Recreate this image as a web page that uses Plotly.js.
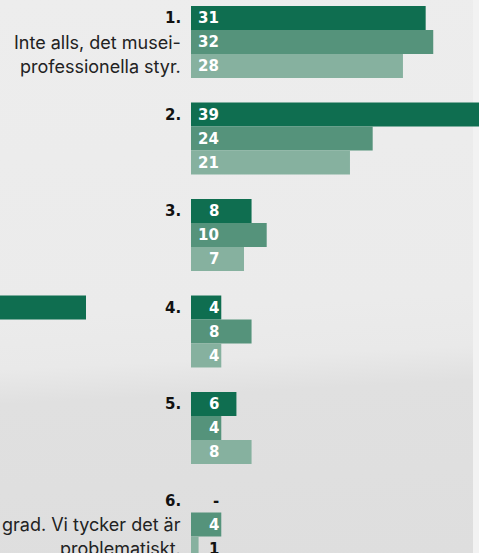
<!DOCTYPE html>
<html>
<head>
<meta charset="utf-8">
<script src="https://cdn.plot.ly/plotly-3.0.1.min.js"></script>
<style>
  html, body { margin: 0; padding: 0; }
  body {
    width: 479px; height: 553px; overflow: hidden;
    background:
      linear-gradient(to right, rgba(0,0,0,0) 473px, #f2f2f2 473px),
      linear-gradient(177deg, #ededed 0%, #ebebeb 55%, #e9e9e9 64%, #e0e0e0 70%, #dedede 100%);
  }
  #chart { width: 479px; height: 553px; }
</style>
</head>
<body>
<div id="chart"></div>
<script>
// ---- data ----
const categories = ["1.", "2.", "3.", "4.", "5.", "6."];
const labelLines = [
  ["Inte alls, det musei-", "professionella styr."],
  [], [], [], [],
  ["grad. Vi tycker det är", "problematiskt."]
];
const series1 = [31, 39, 8, 4, 6, null];
const series2 = [32, 24, 10, 8, 4, 4];
const series3 = [28, 21, 7, 4, 8, 1];
// bar of the neighbouring (cropped) panel, visible at the left edge
const neighbourSeries1 = [null, null, null, 44, null, null];

const seriesNames = ["Serie 1", "Serie 2", "Serie 3"];
const colors = ["#0f6e50", "#55937b", "#86b19f"];

// ---- layout constants ----
const pxPerUnit = 7.57;
const zeroPx = 191;
const W = 479, H = 553;
const groupPx = 96.5, firstCenterPx = 42;
const bargap = 0.254;
const barW = (1 - bargap) / 3;

const allSeries = [series1, series2, series3];
const traces = allSeries.map((s, i) => ({
  type: 'bar', orientation: 'h',
  y: categories, x: s, name: seriesNames[i],
  marker: { color: colors[i], line: { width: 0 } },
  hoverinfo: 'skip', showlegend: false
}));

const neighbourRangeMax = 44;
traces.push({
  type: 'bar', orientation: 'h', xaxis: 'x2', yaxis: 'y',
  y: categories, x: neighbourSeries1,
  width: barW, offset: -1.5 * barW,
  marker: { color: colors[0], line: { width: 0 } },
  hoverinfo: 'skip', showlegend: false
});

const annotations = [];
const numFont = { family: '"DejaVu Sans", sans-serif', size: 15, weight: 'bold' };
allSeries.forEach((s, si) => {
  s.forEach((v, gi) => {
    const inside = v !== null && v >= 2;
    annotations.push({
      xref: 'x', yref: 'y', x: 3.95, y: gi + (si - 1) * barW,
      xanchor: 'right', yanchor: 'middle', showarrow: false,
      text: v === null ? '-' : String(v),
      font: Object.assign({}, numFont, { color: inside ? '#ffffff' : '#111111' })
    });
  });
});
categories.forEach((c, gi) => {
  annotations.push({
    xref: 'x', yref: 'y', x: -1.0, y: gi - barW,
    xanchor: 'right', yanchor: 'middle', showarrow: false,
    text: c, font: Object.assign({}, numFont, { color: '#111111' })
  });
  labelLines[gi].forEach((t, li) => {
    annotations.push({
      xref: 'x', yref: 'y', x: -1.0, y: gi + li * barW,
      xanchor: 'right', yanchor: 'middle', showarrow: false,
      text: t, font: { family: 'Inter, Roboto, sans-serif', size: 18, color: '#222222' }
    });
  });
});

const layout = {
  width: W, height: H,
  margin: { l: 0, r: 0, t: 0, b: 0 },
  paper_bgcolor: 'rgba(0,0,0,0)', plot_bgcolor: 'rgba(0,0,0,0)',
  barmode: 'group', bargap: bargap, bargroupgap: 0,
  xaxis: {
    range: [-zeroPx / pxPerUnit, (W - zeroPx) / pxPerUnit],
    visible: false, fixedrange: true
  },
  xaxis2: {
    domain: [0, 86 / W], anchor: 'y',
    range: [neighbourRangeMax - 86 / pxPerUnit, neighbourRangeMax],
    visible: false, fixedrange: true
  },
  yaxis: {
    type: 'category',
    range: [(H - firstCenterPx) / groupPx, -firstCenterPx / groupPx],
    visible: false, fixedrange: true
  },
  annotations: annotations
};

Plotly.newPlot('chart', traces, layout, { displayModeBar: false, staticPlot: true });
</script>
</body>
</html>
